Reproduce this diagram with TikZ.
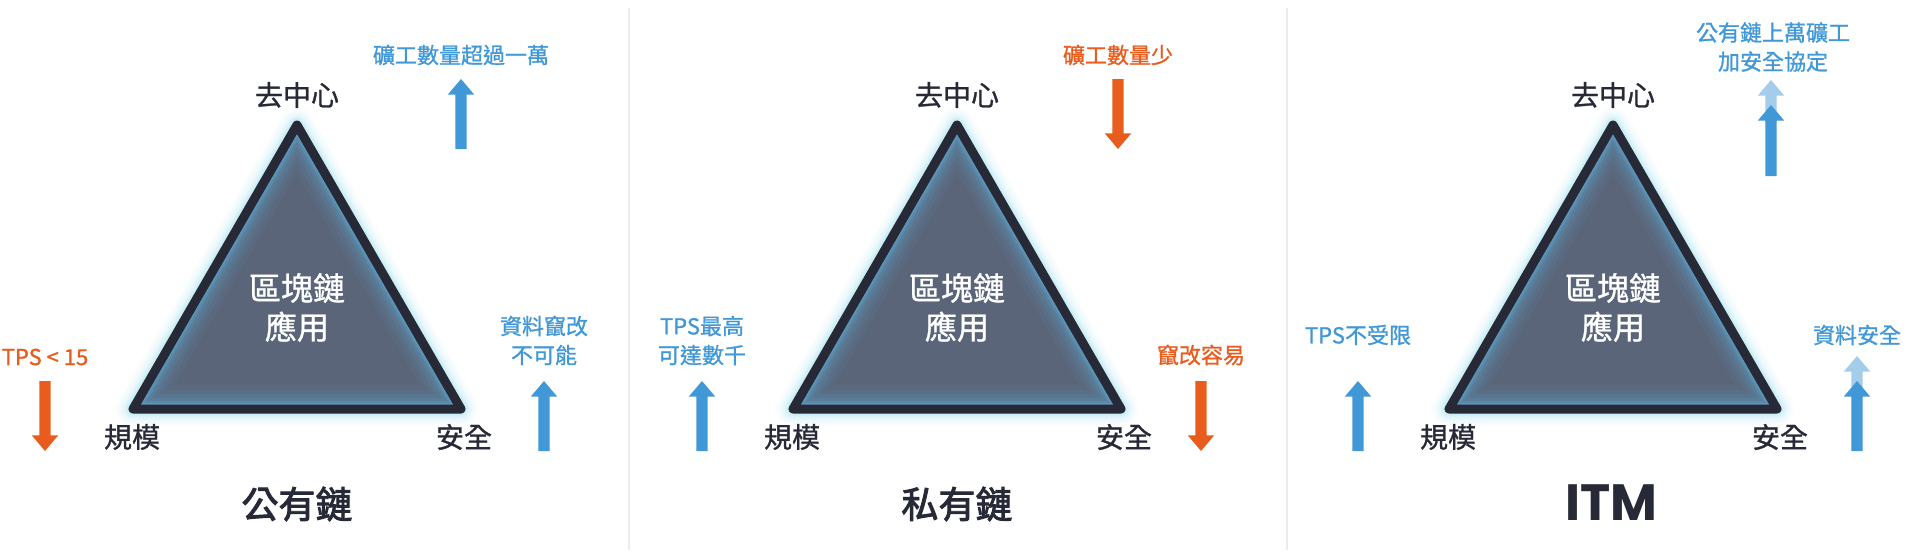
\documentclass[tikz,border=0pt]{standalone}
\usepackage{fontspec}
\setmainfont{Noto Sans CJK TC}
\newfontfamily\itmfont{Poppins}
\definecolor{cblue}{HTML}{4198D7}
\definecolor{corange}{HTML}{E85C1E}
\definecolor{clight}{HTML}{A4CCEB}
\definecolor{cdark}{HTML}{272A36}
\definecolor{cfill}{HTML}{5B6579}
\definecolor{cglow}{HTML}{8FDDF2}
\definecolor{cinner}{HTML}{5AAEDC}
\definecolor{csep}{HTML}{ECECEC}
\newcommand\arwup[4]{%
  \fill[#4] (#1,#2) -- (#1+13.3,#2+15.7) -- (#1+5.7,#2+15.7) -- (#1+5.7,#3) -- (#1-5.7,#3) -- (#1-5.7,#2+15.7) -- (#1-13.3,#2+15.7) -- cycle;}
\newcommand\arwdn[4]{%
  \fill[#4] (#1,#3) -- (#1+13.3,#3-15.7) -- (#1+5.7,#3-15.7) -- (#1+5.7,#2) -- (#1-5.7,#2) -- (#1-5.7,#3-15.7) -- (#1-13.3,#3-15.7) -- cycle;}
\newcommand\glowtri[2]{%
  \coordinate (#2a) at (#1,125);
  \coordinate (#2l) at (#1-164,409);
  \coordinate (#2r) at (#1+164,409);
  \foreach \w/\op in {34/0.05,28/0.07,22/0.1,17/0.14,13/0.2}
    \draw[cglow, line width=\w, opacity=\op, line join=round] (#2a)--(#2l)--(#2r)--cycle;
  \fill[cfill] (#2a)--(#2l)--(#2r)--cycle;
  \begin{scope}
    \clip (#2a)--(#2l)--(#2r)--cycle;
    \foreach \w/\op in {48/0.06,38/0.08,30/0.11,22/0.16,16/0.24,12/0.35}
      \draw[cinner, line width=\w, opacity=\op, line join=round] (#2a)--(#2l)--(#2r)--cycle;
  \end{scope}
  \draw[cdark, line width=9, line join=round] (#2a)--(#2l)--(#2r)--cycle;
  \node[ctr] (#2c) at (#1,307.5) {區塊鏈\\應用};
  \node[vtx] (#2t) at (#1,95) {去中心};
  \node[vtx] (#2bl) at (#1-165,437) {規模};
  \node[vtx] (#2br) at (#1+167,437) {安全};
}
\tikzset{
  lbl/.style={font=\fontsize{22}{29}\selectfont\addfontfeature{FakeBold=1}, align=center, inner sep=0pt},
  vtx/.style={font=\fontsize{28}{34}\selectfont\addfontfeature{FakeBold=1}, text=cdark, inner sep=0pt},
  ctr/.style={font=\fontsize{32}{39}\selectfont\addfontfeature{FakeBold=1}, text=white, align=center, inner sep=0pt},
  ttl/.style={font=\fontsize{37}{44}\selectfont\addfontfeature{FakeBold=2.5}, text=cdark, inner sep=0pt},
}
\begin{document}
\begin{tikzpicture}[x=1pt,y=-1pt]
\useasboundingbox[fill=white] (0,0) rectangle (1920,557);
% separators
\draw[csep, line width=1.5] (629,8) -- (629,550);
\draw[csep, line width=1.5] (1287,8) -- (1287,550);
% ---------- panel 1 ----------
\glowtri{297}{pa}
\node[lbl, text=cblue] (paTopL) at (461,55) {礦工數量超過一萬};
\arwup{461}{79}{149}{cblue}
\node[lbl, text=corange] (paLeftL) at (45,357) {TPS < 15};
\arwdn{45}{381}{451}{corange}
\node[lbl, text=cblue] (paRightL) at (544,340.5) {資料竄改\\不可能};
\arwup{544}{381}{451}{cblue}
\node[ttl] (paTitle) at (297,504) {公有鏈};
% ---------- panel 2 ----------
\glowtri{957}{pb}
\node[lbl, text=corange] (pbTopL) at (1118,55) {礦工數量少};
\arwdn{1118}{79}{149}{corange}
\node[lbl, text=cblue] (pbLeftL) at (702,340.5) {TPS最高\\可達數千};
\arwup{702}{381}{451}{cblue}
\node[lbl, text=corange] (pbRightL) at (1201,355) {竄改容易};
\arwdn{1201}{381}{451}{corange}
\node[ttl] (pbTitle) at (957,504) {私有鏈};
% ---------- panel 3 ----------
\glowtri{1613}{pc}
\node[lbl, text=cblue] (pcTopL) at (1773,47) {公有鏈上萬礦工\\加安全協定};
\arwup{1771}{80}{122}{clight}
\arwup{1771}{105}{176}{cblue}
\node[lbl, text=cblue] (pcLeftL) at (1358,335) {TPS不受限};
\arwup{1358}{381}{451}{cblue}
\node[lbl, text=cblue] (pcRightL) at (1857,335) {資料安全};
\arwup{1857}{356}{398}{clight}
\arwup{1857}{381}{451}{cblue}
\node[font=\itmfont\bfseries\fontsize{51}{60}\selectfont, text=cdark, inner sep=0pt] (pcTitle) at (1611,503) {ITM};
\end{tikzpicture}
\end{document}
